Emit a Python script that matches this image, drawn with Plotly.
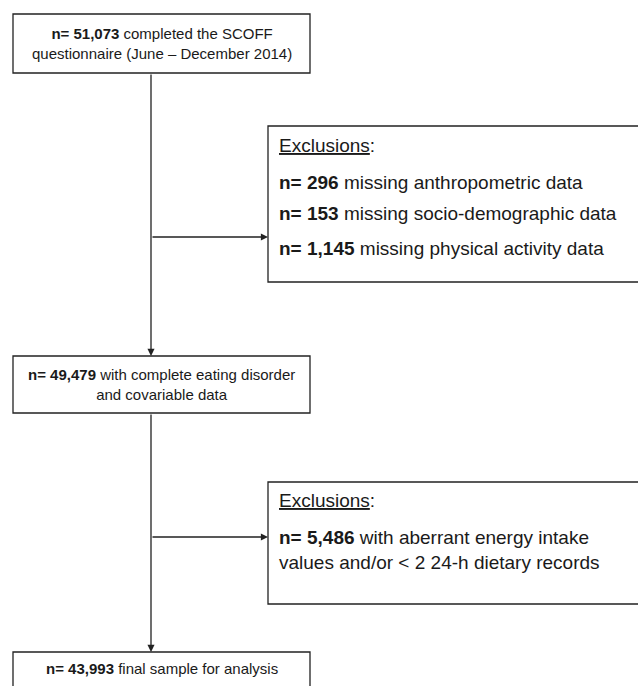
import plotly.graph_objects as go

W, H = 638, 686

# ---- data ----
main_counts = ["51,073", "49,479", "43,993"]
main_texts = [
    "completed the SCOFF<br>questionnaire (June – December 2014)",
    "with complete eating disorder<br>and covariable data",
    "final sample for analysis",
]
excl1_counts = ["296", "153", "1,145"]
excl1_texts = [
    "missing anthropometric data",
    "missing socio-demographic data",
    "missing physical activity data",
]
excl2_counts = ["5,486"]
excl2_texts = ["with aberrant energy intake<br>values and/or &lt; 2 24-h dietary records"]
excl_header = "<u>Exclusions</u>:"

# ---- layout geometry (pixels) ----
FONT = "Liberation Sans, Arial, sans-serif"
FS_MAIN = 15
FS_EXCL = 19
TXT = "#1a1a1a"
LINE = "#222222"

main_x0, main_x1 = 13, 310
main_boxes_y = [(14, 73), (356, 413), (652, 720)]
main_text_y = [43, 384, 668]
stem_x = 151
excl_x0, excl_x1 = 268, 642
excl1_y = (126, 282)
excl1_lines_y = [145, 182, 213, 248]
excl2_y = (482, 604)
excl2_lines_y = [500, 550]
arrow1_y = 237
arrow2_y = 537
text_x = 277

fig = go.Figure()
fig.add_trace(go.Scatter(x=[], y=[], showlegend=False))

shapes = []
annotations = []


def rect(x0, y0, x1, y1):
    shapes.append(dict(type="rect", xref="x", yref="y", x0=x0, y0=y0, x1=x1, y1=y1,
                       line=dict(color=LINE, width=1.3), fillcolor="white", layer="below"))


def arrow(x0, y0, x1, y1):
    annotations.append(dict(x=x1, y=y1, ax=x0, ay=y0, xref="x", yref="y", axref="x", ayref="y",
                            text="", showarrow=True, arrowhead=2, arrowsize=1.1,
                            arrowwidth=1.3, arrowcolor=LINE, standoff=0, startstandoff=0))


def text(x, y, s, size, anchor="center"):
    annotations.append(dict(x=x, y=y, xref="x", yref="y", text=s, showarrow=False,
                            xanchor=anchor, yanchor="middle", align=anchor,
                            font=dict(family=FONT, size=size, color=TXT)))


# main boxes
for (y0, y1), ty, c, t in zip(main_boxes_y, main_text_y, main_counts, main_texts):
    rect(main_x0, y0, main_x1, y1)
    text((main_x0 + main_x1) / 2, ty, f"<b>n= {c}</b> {t}", FS_MAIN)

# exclusion boxes
rect(excl_x0, excl1_y[0], excl_x1, excl1_y[1])
text(text_x, excl1_lines_y[0], excl_header, FS_EXCL, "left")
for ly, c, t in zip(excl1_lines_y[1:], excl1_counts, excl1_texts):
    text(text_x, ly, f"<b>n= {c}</b> {t}", FS_EXCL, "left")

rect(excl_x0, excl2_y[0], excl_x1, excl2_y[1])
text(text_x, excl2_lines_y[0], excl_header, FS_EXCL, "left")
for ly, c, t in zip(excl2_lines_y[1:], excl2_counts, excl2_texts):
    text(text_x, ly, f"<b>n= {c}</b> {t}", FS_EXCL, "left")

# connectors
arrow(stem_x, main_boxes_y[0][1], stem_x, main_boxes_y[1][0])
arrow(stem_x, arrow1_y, excl_x0, arrow1_y)
arrow(stem_x, main_boxes_y[1][1], stem_x, main_boxes_y[2][0])
arrow(stem_x, arrow2_y, excl_x0, arrow2_y)

fig.update_layout(
    width=W, height=H,
    margin=dict(l=0, r=0, t=0, b=0),
    paper_bgcolor="white", plot_bgcolor="white",
    xaxis=dict(range=[0, W], visible=False, fixedrange=True),
    yaxis=dict(range=[H, 0], visible=False, fixedrange=True),
    shapes=shapes, annotations=annotations,
    showlegend=False,
)

fig.write_html(
    "out.html",
    config={"displayModeBar": False},
    post_script="document.body.style.margin='0';document.body.style.overflow='hidden';",
)
